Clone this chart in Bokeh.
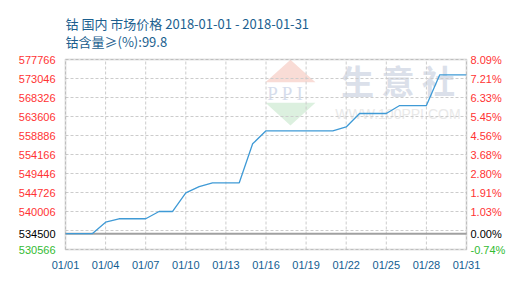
from bokeh.plotting import figure
from bokeh.models import Range1d, FixedTicker, Title, BoxAnnotation
from bokeh.core.properties import value
from bokeh.embed import file_html
from bokeh.resources import INLINE

# ---------------- data ----------------
days = list(range(1, 32))
prices = [534500, 534500, 534500, 537350, 538200, 538200, 538200, 540000, 540000,
          544650, 546200, 547130, 547130, 547130, 556820, 560050, 560050, 560050,
          560050, 560050, 560050, 561000, 564350, 564350, 564350, 566330, 566330,
          566330, 573960, 573960, 573960]
base_price = 534500
y_min, y_max = 530566, 577766
grid_step = 4720
x_tick_days = [1, 4, 7, 10, 13, 16, 19, 22, 25, 28, 31]
x_tick_labels = ["01/01", "01/04", "01/07", "01/10", "01/13", "01/16",
                 "01/19", "01/22", "01/25", "01/28", "01/31"]
left_labels = ["577766", "573046", "568326", "563606", "558886", "554166",
               "549446", "544726", "540006", "534500", "530566"]
right_labels = ["8.09%", "7.21%", "6.33%", "5.45%", "4.56%", "3.68%",
                "2.80%", "1.91%", "1.03%", "0.00%", "-0.74%"]
title_text = "钴 国内 市场价格 2018-01-01 - 2018-01-31\n钴含量≥(%):99.8"

# ---------------- layout ----------------
W, H = 530, 300
box_left, box_right = 65, 466      # pixel extent of the plotting box
box_top, box_bottom = 59, 249
frame_top, frame_bottom = 50, 257  # drawing frame (room for edge labels)
px_per_day = (box_right - box_left) / (days[-1] - days[0])
x_start = days[0] - box_left / px_per_day
x_end = days[-1] + (W - box_right) / px_per_day
val_per_px = (y_max - y_min) / (box_bottom - box_top)
y_start = y_min - (frame_bottom - box_bottom) * val_per_px
y_end = y_max + (box_top - frame_top) * val_per_px

p = figure(width=W, height=H, output_backend="svg", toolbar_location=None,
           x_range=Range1d(x_start, x_end), y_range=Range1d(y_start, y_end),
           min_border_left=0, min_border_right=0, min_border_top=frame_top,
           min_border_bottom=H - frame_bottom, title=None)
p.background_fill_color = "white"
p.border_fill_color = "white"
p.outline_line_color = None
p.grid.visible = False
p.yaxis.visible = False

xa = p.xaxis[0]
xa.ticker = FixedTicker(ticks=x_tick_days)
xa.major_label_overrides = {d: t for d, t in zip(x_tick_days, x_tick_labels)}
xa.axis_line_color = None
xa.major_tick_line_color = None
xa.minor_tick_line_color = None
xa.major_tick_out = 0
xa.major_tick_in = 0
xa.major_label_text_color = "#135e92"
xa.major_label_text_font = "Liberation Sans"
xa.major_label_text_font_size = "11px"
xa.major_label_standoff = 1

# watermark (decoration)
p.patch(x=[15.96, 17.83, 19.70], y=[572120, 577700, 572120], fill_color="#f9dcd6",
        line_color=None)
p.patch(x=[15.96, 17.83, 19.70], y=[567000, 561370, 567000], fill_color="#dcf0df",
        line_color=None)
p.text(x=[17.83], y=[569440], text=["P  P  I"], text_align="center",
       text_baseline="middle", text_color="#d6ddec",
       text_font=value("Liberation Serif"), text_font_size="19px")
p.text(x=[25.87], y=[572550], text=["生 意 社"], text_align="center",
       text_baseline="middle", text_color="#dbe0ea",
       text_font=value("Noto Sans CJK SC"), text_font_size="33px",
       text_font_style="bold")
p.text(x=[25.87], y=[564350], text=["WWW.100PPI.COM"], text_align="center",
       text_baseline="middle", text_color="#e9e9e9",
       text_font=value("Liberation Sans"), text_font_size="14px")

# grid lines (dashed) limited to the plotting box
grid_vals = [y_min + k * grid_step for k in range(11)]
p.segment(x0=[days[0]] * len(grid_vals), x1=[days[-1]] * len(grid_vals),
          y0=grid_vals, y1=grid_vals, line_color="#cccccc", line_dash="3 2",
          line_width=1)
p.segment(x0=x_tick_days, x1=x_tick_days, y0=[y_min] * len(x_tick_days),
          y1=[y_max] * len(x_tick_days), line_color="#cccccc", line_dash="3 2",
          line_width=1)

# base line
p.segment(x0=[days[0]], x1=[days[-1]], y0=[base_price], y1=[base_price],
          line_color="#a0a0a0", line_width=2)

# box outline
p.add_layout(BoxAnnotation(left=days[0], right=days[-1], bottom=y_min, top=y_max,
                           fill_color=None, line_color="#a0a0a0", line_width=2))

p.line(days, prices, line_color="#3f9ad6", line_width=1.3)

# tick labels with per-label colours
label_vals = grid_vals[::-1][:9] + [base_price, y_min]
label_colors = ["#ff3333"] * 9 + ["#000000", "#33bb33"]
p.text(x=[days[0]] * 11, y=label_vals, text=left_labels, text_color=label_colors,
       x_offset=-10, text_align="right", text_baseline="middle",
       text_font=value("Liberation Sans"), text_font_size="11px")
p.text(x=[days[-1]] * 11, y=label_vals, text=right_labels, text_color=label_colors,
       x_offset=4, text_align="left", text_baseline="middle",
       text_font=value("Liberation Sans"), text_font_size="11px")

p.add_layout(Title(text=title_text, align="left", offset=65, text_color="#1c5f8f",
                   text_font="Noto Sans CJK SC", text_font_size="13px",
                   text_font_style="normal", text_line_height=0.95, standoff=-2),
             "above")

open("out.html", "w").write(file_html(p, INLINE))
